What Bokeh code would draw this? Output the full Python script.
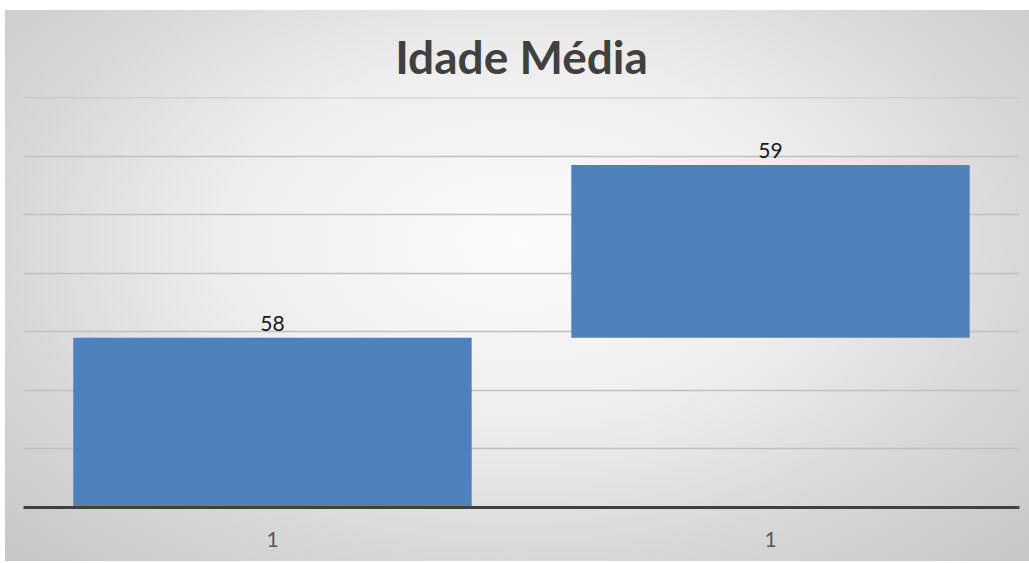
import numpy as np
from bokeh.plotting import figure
from bokeh.models import ColumnDataSource, FixedTicker, SingleIntervalTicker, Range1d
from bokeh.core.properties import value
from bokeh.embed import file_html
from bokeh.resources import INLINE

# ---- data ----
categories = ["1", "1"]
values = [58, 59]
title_text = "Idade Média"

x_pos = np.arange(len(categories)) + 0.5
bottoms = np.concatenate([[0], np.cumsum(values)[:-1]])
tops = np.cumsum(values)

src = ColumnDataSource(dict(
    x=x_pos, bottom=bottoms, top=tops,
    label=[str(v) for v in values],
))

p = figure(width=1029, height=561, output_backend="svg", toolbar_location=None,
           x_range=Range1d(0, len(categories)), y_range=Range1d(0, 140.05),
           min_border_left=23, min_border_right=10, min_border_top=97, min_border_bottom=54,
           title=title_text)

p.background_fill_color = None
p.border_fill_color = None
p.outline_line_color = None
p.styles = {
    "background-color": "white",
    "background-image": "radial-gradient(ellipse farthest-corner at 50% 42%, #fbfbfb 0%, #eeeeee 40%, #d8d8d8 70%, #c6c6c6 100%)",
    "background-size": "1024px 551px",
    "background-position": "5px 10px",
    "background-repeat": "no-repeat",
}

p.title.align = "center"
p.title.text_font = "Lato"
p.title.text_font_style = "bold"
p.title.text_font_size = "46px"
p.title.text_color = "#404040"
p.title.standoff = 28

p.vbar(x="x", bottom="bottom", top="top", width=0.8, source=src,
       fill_color="#4F81BD", line_color=None)

p.text(x="x", y="top", text="label", source=src, text_align="center",
       text_baseline="alphabetic", y_offset=-14, text_font=value("Lato"),
       text_font_size="21px", text_color="#1a1a1a")

p.yaxis.visible = False
p.yaxis.ticker = SingleIntervalTicker(interval=20)
p.ygrid.ticker = SingleIntervalTicker(interval=20)
p.ygrid.grid_line_color = "#c0c0c0"
p.ygrid.grid_line_width = 1.5
p.xgrid.visible = False

p.xaxis.ticker = FixedTicker(ticks=list(x_pos))
p.xaxis.major_label_overrides = {float(x): c for x, c in zip(x_pos, categories)}
p.xaxis.major_tick_line_color = None
p.xaxis.minor_tick_line_color = None
p.xaxis.axis_line_color = "#404040"
p.xaxis.axis_line_width = 3
p.xaxis.major_label_text_font = "Lato"
p.xaxis.major_label_text_font_size = "21px"
p.xaxis.major_label_text_color = "#595959"
p.xaxis.major_label_standoff = 18

open("out.html", "w").write(file_html(p, INLINE))
